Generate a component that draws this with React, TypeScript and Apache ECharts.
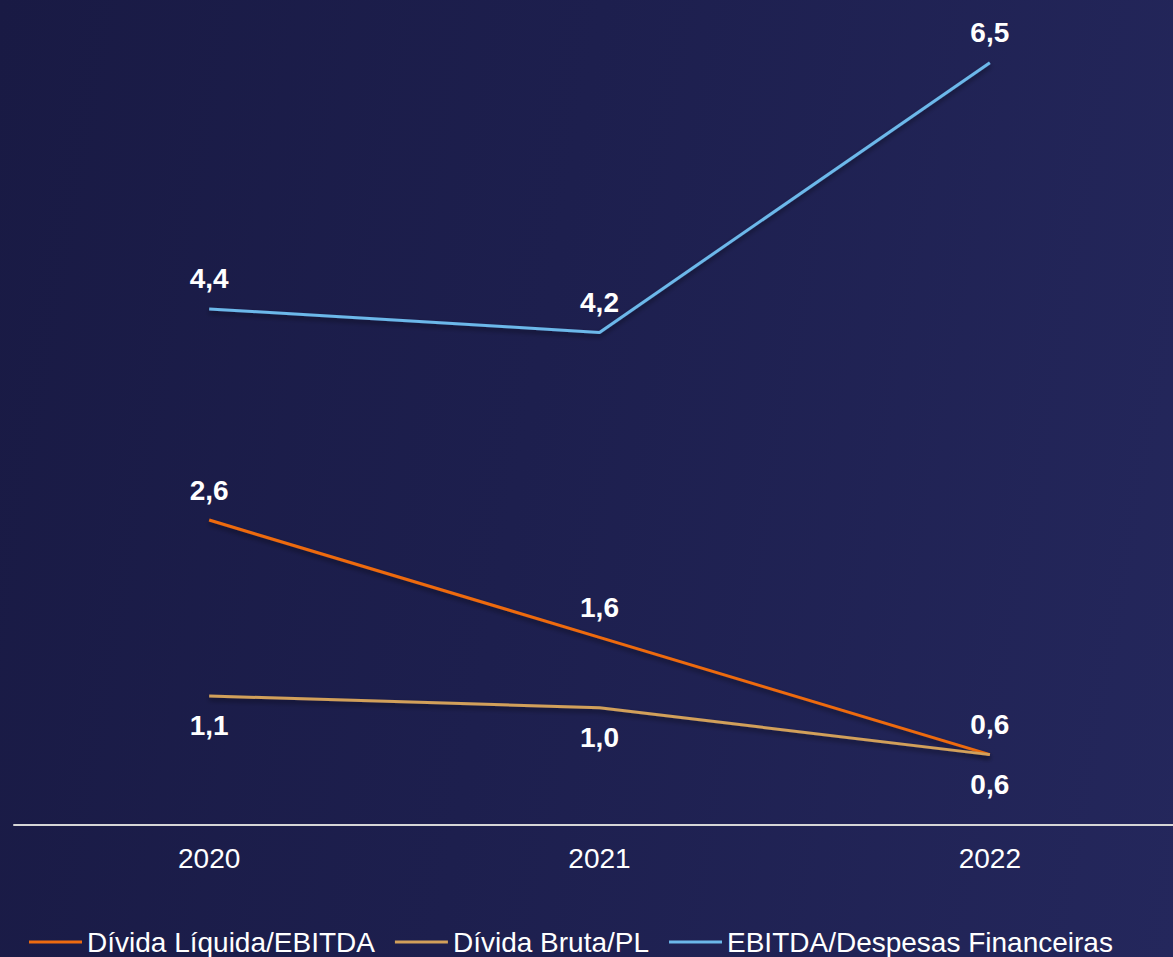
import React, { useEffect, useRef } from "react";
import * as echarts from "echarts";

const categories = ["2020", "2021", "2022"];
const seriesNames = ["Dívida Líquida/EBITDA", "Dívida Bruta/PL", "EBITDA/Despesas Financeiras"];
const dividaLiquidaEbitda = [2.6, 1.6, 0.6];
const dividaBrutaPL = [1.1, 1.0, 0.6];
const ebitdaDespesas = [4.4, 4.2, 6.5];

const colors = ["#EE6B10", "#D2A05A", "#6CB8EA"];
const labelPlacement = [
  ["top", "top", "bottom"],
  ["bottom", "bottom", "top"],
  ["top", "top", "top"],
];

const FONT = "'Liberation Sans', Arial, Helvetica, sans-serif";

export default function App() {
  const ref = useRef<HTMLDivElement>(null);
  useEffect(() => {
    document.body.style.margin = "0";
    if (!ref.current) return;
    const chart = echarts.init(ref.current, null, { renderer: "svg" });
    const values = [dividaLiquidaEbitda, dividaBrutaPL, ebitdaDespesas];
    const series = values.map((vals, si) => ({
      name: seriesNames[si],
      type: "line",
      data: vals.map((v, i) => ({
        value: v,
        label: { position: labelPlacement[si][i] },
      })),
      symbol: "circle",
      symbolSize: 0.01,
      showSymbol: true,
      color: colors[si],
      lineStyle: {
        color: colors[si],
        width: 3,
        shadowColor: "rgba(0,0,0,0.45)",
        shadowBlur: 5,
        shadowOffsetY: 3,
      },
      itemStyle: { color: colors[si] },
      label: {
        show: true,
        distance: 16,
        color: "#ffffff",
        fontSize: 28,
        fontWeight: "bold",
        fontFamily: FONT,
        formatter: (p: any) => Number(p.value).toFixed(1).replace(".", ","),
      },
      z: si === 2 ? 3 : si === 0 ? 2 : 4,
    }));
    chart.setOption({
      animation: false,
      backgroundColor: "transparent",
      grid: { left: 14, top: 4, width: 1171, height: 821 },
      xAxis: {
        type: "category",
        data: categories,
        boundaryGap: true,
        axisLine: { show: true, lineStyle: { color: "#d6d6d6", width: 2 } },
        axisTick: { show: false },
        axisLabel: { color: "#ffffff", fontSize: 28, fontFamily: FONT, margin: 19 },
      },
      yAxis: {
        type: "value",
        min: 0,
        max: 7,
        show: false,
        splitLine: { show: false },
      },
      legend: {
        data: seriesNames,
        left: 24,
        top: 923,
        icon: "rect",
        itemWidth: 53,
        itemHeight: 3,
        itemGap: 20,
        textStyle: { color: "#ffffff", fontSize: 28, fontFamily: FONT },
      },
      series,
    });
    return () => chart.dispose();
  }, []);
  return (
    <div
      style={{
        width: 1173,
        height: 957,
        overflow: "hidden",
        background: "linear-gradient(100deg, #191a44 0%, #1d1f4e 45%, #24275c 100%)",
      }}
    >
      <div ref={ref} style={{ width: 1200, height: 957 }} />
    </div>
  );
}
